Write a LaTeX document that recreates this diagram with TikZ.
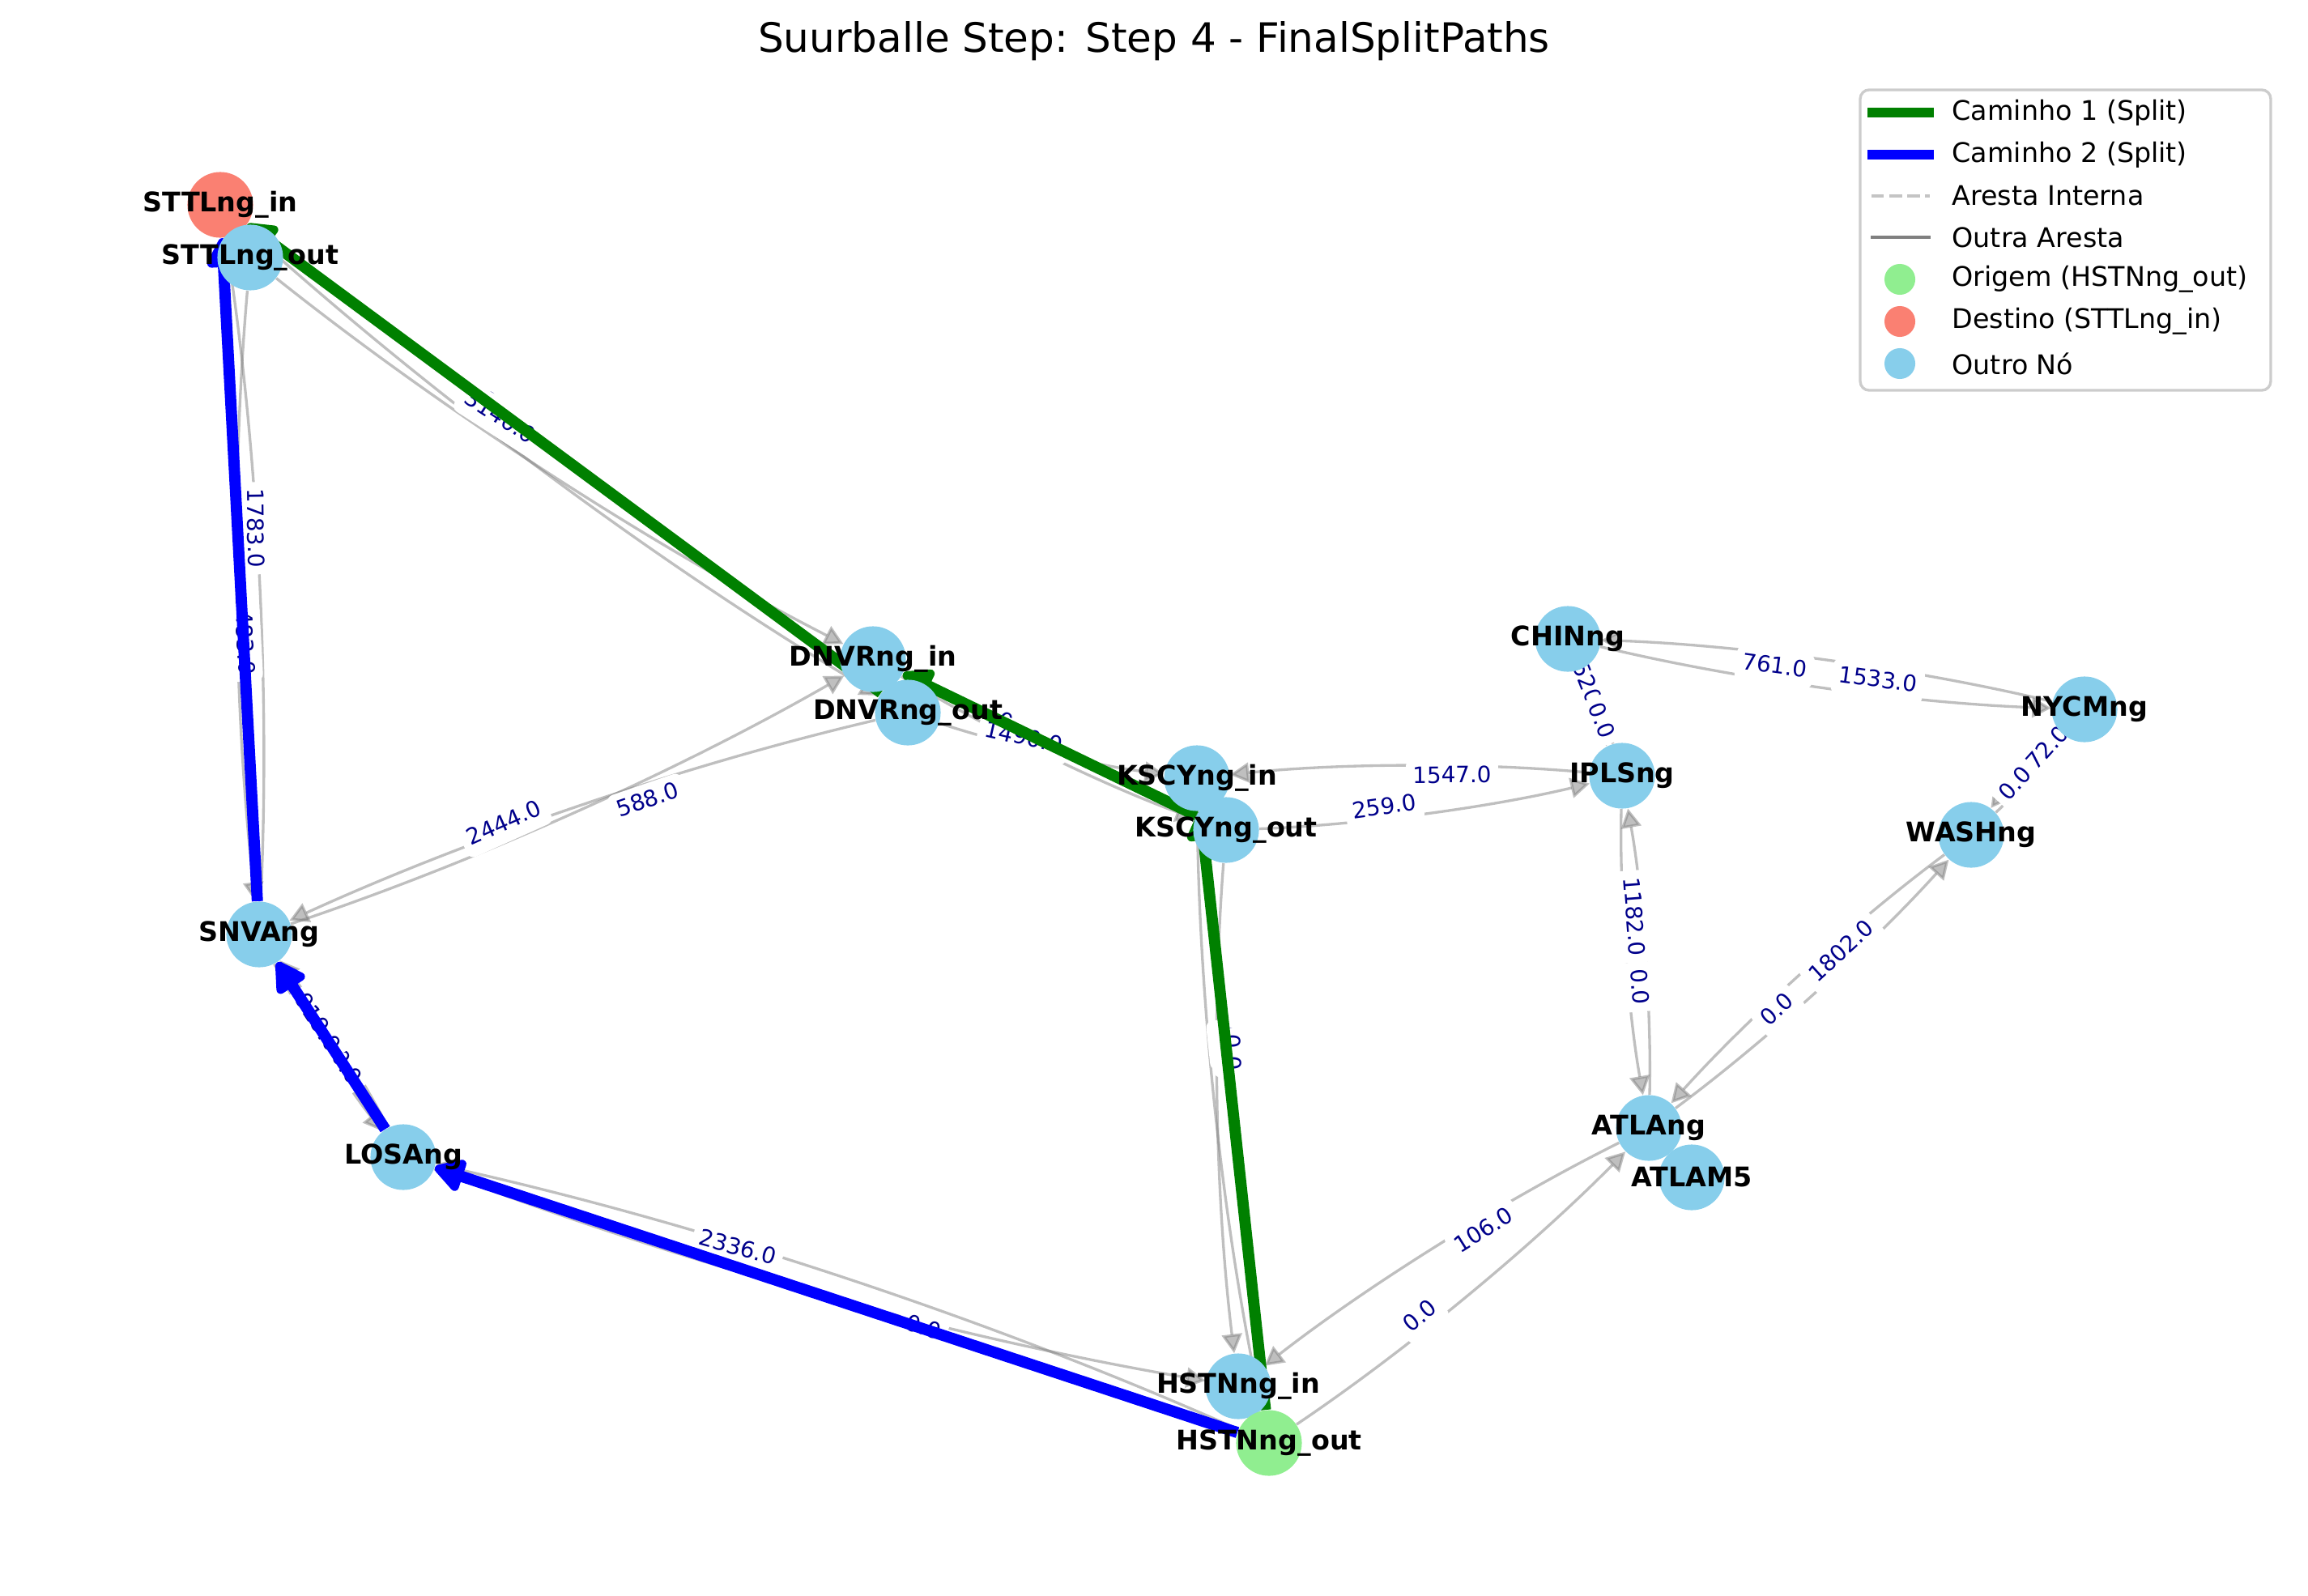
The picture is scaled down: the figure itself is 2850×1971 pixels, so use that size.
\documentclass[tikz,border=0pt]{standalone}
\usepackage{fontspec}
\setmainfont{DejaVu Sans}
\usetikzlibrary{arrows.meta,calc}
\pgfdeclarelayer{gedges}
\pgfdeclarelayer{elabels}
\pgfdeclarelayer{pedges}
\pgfdeclarelayer{toplab}
\pgfsetlayers{gedges,elabels,pedges,main,toplab}
\definecolor{skyb}{HTML}{87CEEB}
\definecolor{lgreen}{HTML}{90EE90}
\definecolor{salm}{HTML}{FA8072}
\definecolor{dblue}{HTML}{00008B}
\definecolor{pgreen}{HTML}{008000}
\definecolor{pblue}{HTML}{0000FF}
\definecolor{lframe}{HTML}{CCCCCC}
\definecolor{ledash}{HTML}{C4C4C4}
\definecolor{legray}{HTML}{808080}
\tikzset{
  vert/.style={circle, minimum size=29.2pt, inner sep=0pt, fill=skyb},
  nlabel/.style={font=\bfseries\fontsize{12}{14}\selectfont, inner sep=0pt},
  elabel/.style={font=\fontsize{10}{12}\selectfont, text=dblue, fill=white, rounded corners=3pt, inner sep=3pt, text height=7.6pt, text depth=2.1pt},
  gedge/.style={draw=gray, opacity=0.5, line width=1.2pt, -{Triangle[length=8.5pt,width=9pt]}},
  pedge/.style={line width=5pt, -{Triangle[round,length=15pt,width=16pt]}},
  legtext/.style={anchor=west, font=\fontsize{12}{14}\selectfont, inner sep=0pt},
}
\newcommand\grayedge[2]{%
  \coordinate (qq) at ($(#1)!0.5!(#2)!0.1!-90:(#2)$);
  \coordinate (qa) at ($(#1)!0.6667!(qq)$);
  \coordinate (qb) at ($(#2)!0.6667!(qq)$);
  \draw[gedge] (#1) .. controls (qa) and (qb) .. (#2);}
\newcommand\edgelab[4]{\path (#1.center) -- (#2.center) node[elabel, sloped, pos=0.4] (#4) {#3};}
\begin{document}
\begin{tikzpicture}[x=0.36pt, y=-0.36pt]
\useasboundingbox (0,0) rectangle (2850,1971);
% title
\node[font=\fontsize{18}{21}\selectfont, inner sep=0pt] (title) at (1425,51) {Suurballe Step: Step 4 - FinalSplitPaths};
% nodes (draw order as in reference)
\node[vert] (ATLAM5) at (2089,1454) {};
\node[vert] (ATLA) at (2036,1393) {};
\node[vert] (CHIN) at (1936,789) {};
\node[vert] (DNVRin) at (1078,814) {};
\node[vert] (DNVRout) at (1121,880) {};
\node[vert] (HSTNin) at (1529,1712) {};
\node[vert, fill=lgreen] (HSTNout) at (1567,1782) {};
\node[vert] (IPLS) at (2003,958) {};
\node[vert] (KSCYin) at (1478,961) {};
\node[vert] (KSCYout) at (1514,1025) {};
\node[vert] (LOSA) at (498,1429) {};
\node[vert] (NYCM) at (2574,876) {};
\node[vert] (SNVA) at (320,1154) {};
\node[vert, fill=salm] (STTLin) at (272,253) {};
\node[vert] (STTLout) at (309,318) {};
\node[vert] (WASH) at (2434,1031) {};
% node labels
\begin{pgfonlayer}{toplab}
\node[nlabel] (tATLAM5) at (ATLAM5) {ATLAM5};
\node[nlabel] (tATLA) at (ATLA) {ATLAng};
\node[nlabel] (tCHIN) at (CHIN) {CHINng};
\node[nlabel] (tDNVRin) at (DNVRin) {DNVRng\_in};
\node[nlabel] (tDNVRout) at (DNVRout) {DNVRng\_out};
\node[nlabel] (tHSTNin) at (HSTNin) {HSTNng\_in};
\node[nlabel] (tHSTNout) at (HSTNout) {HSTNng\_out};
\node[nlabel] (tIPLS) at (IPLS) {IPLSng};
\node[nlabel] (tKSCYin) at (KSCYin) {KSCYng\_in};
\node[nlabel] (tKSCYout) at (KSCYout) {KSCYng\_out};
\node[nlabel] (tLOSA) at (LOSA) {LOSAng};
\node[nlabel] (tNYCM) at (NYCM) {NYCMng};
\node[nlabel] (tSNVA) at (SNVA) {SNVAng};
\node[nlabel] (tSTTLin) at (STTLin) {STTLng\_in};
\node[nlabel] (tSTTLout) at (STTLout) {STTLng\_out};
\node[nlabel] (tWASH) at (WASH) {WASHng};
\end{pgfonlayer}
% gray edges
\begin{pgfonlayer}{gedges}
\grayedge{STTLout}{SNVA}
\grayedge{SNVA}{STTLin}
\grayedge{STTLout}{DNVRin}
\grayedge{STTLin}{DNVRout}
\grayedge{SNVA}{DNVRin}
\grayedge{DNVRout}{SNVA}
\grayedge{SNVA}{LOSA}
\grayedge{LOSA}{SNVA}
\grayedge{LOSA}{HSTNin}
\grayedge{HSTNout}{LOSA}
\grayedge{DNVRout}{KSCYin}
\grayedge{DNVRin}{KSCYout}
\grayedge{KSCYout}{HSTNin}
\grayedge{KSCYin}{HSTNout}
\grayedge{KSCYout}{IPLS}
\grayedge{IPLS}{KSCYin}
\grayedge{CHIN}{IPLS}
\grayedge{IPLS}{CHIN}
\grayedge{CHIN}{NYCM}
\grayedge{NYCM}{CHIN}
\grayedge{NYCM}{WASH}
\grayedge{WASH}{NYCM}
\grayedge{IPLS}{ATLA}
\grayedge{ATLA}{IPLS}
\grayedge{WASH}{ATLA}
\grayedge{ATLA}{WASH}
\grayedge{ATLA}{HSTNin}
\grayedge{HSTNout}{ATLA}
\end{pgfonlayer}
% edge labels
\begin{pgfonlayer}{elabels}
\edgelab{STTLin}{DNVRout}{0.0}{l4}
\edgelab{DNVRin}{KSCYout}{0.0}{l12}
\edgelab{KSCYin}{HSTNout}{0.0}{l14}
\edgelab{LOSA}{SNVA}{0.0}{l8}
\edgelab{STTLout}{SNVA}{1783.0}{l1}
\edgelab{SNVA}{STTLin}{483.0}{l2}
\edgelab{STTLout}{DNVRin}{3140.0}{l3}
\edgelab{SNVA}{DNVRin}{2444.0}{l5}
\edgelab{DNVRout}{SNVA}{588.0}{l6}
\edgelab{SNVA}{LOSA}{919.0}{l7}
\edgelab{LOSA}{HSTNin}{2336.0}{l9}
\edgelab{HSTNout}{LOSA}{0.0}{l10}
\edgelab{DNVRout}{KSCYin}{1490.0}{l11}
\edgelab{KSCYout}{HSTNin}{0.0}{l13}
\edgelab{KSCYout}{IPLS}{259.0}{l15}
\edgelab{IPLS}{KSCYin}{1547.0}{l16}
\edgelab{CHIN}{IPLS}{520.0}{l17}
\edgelab{IPLS}{CHIN}{0.0}{l18}
\edgelab{CHIN}{NYCM}{761.0}{l19}
\edgelab{NYCM}{CHIN}{1533.0}{l20}
\edgelab{NYCM}{WASH}{1072.0}{l21}
\edgelab{WASH}{NYCM}{0.0}{l22}
\edgelab{IPLS}{ATLA}{1182.0}{l23}
\edgelab{ATLA}{IPLS}{0.0}{l24}
\edgelab{WASH}{ATLA}{1802.0}{l25}
\edgelab{ATLA}{WASH}{0.0}{l26}
\edgelab{ATLA}{HSTNin}{106.0}{l27}
\edgelab{HSTNout}{ATLA}{0.0}{l28}
\end{pgfonlayer}
% path edges
\begin{pgfonlayer}{pedges}
\draw[pedge, pgreen] (HSTNout) -- (KSCYin);
\draw[pedge, pgreen] (KSCYout) -- (DNVRin);
\draw[pedge, pgreen] (DNVRout) -- (STTLin);
\draw[pedge, pblue] (HSTNout) -- (LOSA);
\draw[pedge, pblue] (LOSA) -- (SNVA);
\draw[pedge, pblue] (SNVA) -- (STTLin);
\end{pgfonlayer}
% legend
\node[draw=lframe, line width=1.2pt, fill=white, rounded corners=4pt, minimum width=182.5pt, minimum height=133.6pt, inner sep=0pt] (legbox) at (2550.5,296.5) {};
\coordinate (h1a) at (2306,139); \coordinate (h1b) at (2388,139);
\coordinate (h2a) at (2306,191); \coordinate (h2b) at (2388,191);
\coordinate (h3a) at (2311,242); \coordinate (h3b) at (2383,242);
\coordinate (h4a) at (2310,293); \coordinate (h4b) at (2384,293);
\draw[pgreen, line width=4pt] (h1a) -- (h1b);
\draw[pblue, line width=4pt] (h2a) -- (h2b);
\draw[ledash, line width=1.5pt, dash pattern=on 5.55pt off 2.4pt] (h3a) -- (h3b);
\draw[legray, line width=1.5pt] (h4a) -- (h4b);
\node[circle, fill=lgreen, minimum size=13.7pt, inner sep=0pt] (c5) at (2346,345) {};
\node[circle, fill=salm, minimum size=13.7pt, inner sep=0pt] (c6) at (2346,397) {};
\node[circle, fill=skyb, minimum size=13.7pt, inner sep=0pt] (c7) at (2346,449) {};
\node[legtext] (t1) at (2410,139) {Caminho 1 (Split)};
\node[legtext] (t2) at (2410,191) {Caminho 2 (Split)};
\node[legtext] (t3) at (2410,242) {Aresta Interna};
\node[legtext] (t4) at (2410,293) {Outra Aresta};
\node[legtext] (t5) at (2410,345) {Origem (HSTNng\_out)};
\node[legtext] (t6) at (2410,397) {Destino (STTLng\_in)};
\node[legtext] (t7) at (2410,449) {Outro Nó};
\end{tikzpicture}
\end{document}
